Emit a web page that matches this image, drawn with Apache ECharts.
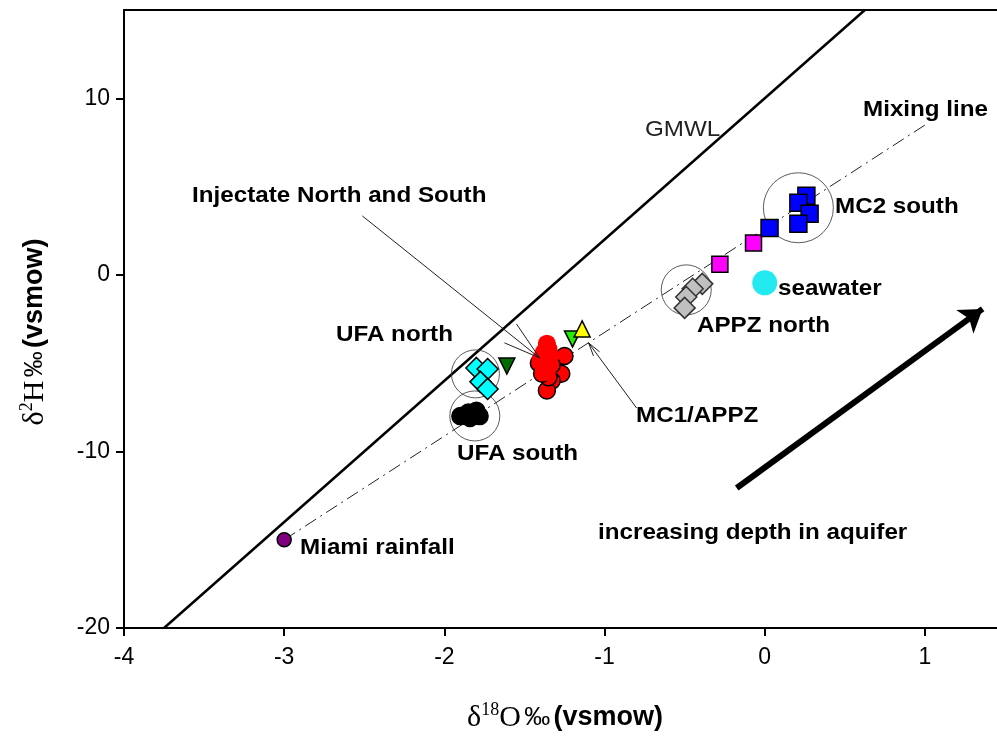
<!DOCTYPE html>
<html>
<head>
<meta charset="utf-8">
<script src="https://cdn.jsdelivr.net/npm/echarts@6/dist/echarts.min.js"></script>
<style>
  html, body { margin: 0; padding: 0; background: #fff; }
  #chart { width: 997px; height: 739px; }
</style>
</head>
<body>
<div id="chart"></div>
<script>
// Axis tick values
const xTicks = [-4, -3, -2, -1, 0, 1];
const yTicks = [-20, -10, 0, 10];

// Sample groups: d18O (x) and d2H (y), per mil vs VSMOW
const miamiO = [-3.0];
const miamiH = [-15.0];

const ufaNorthO = [-1.80, -1.73, -1.775, -1.73];
const ufaNorthH = [-5.27, -5.33, -6.06, -6.46];

const ufaSouthO = [-1.90, -1.85, -1.80, -1.78, -1.84];
const ufaSouthH = [-8.0, -7.8, -7.7, -8.0, -8.1];

const darkGreenO = [-1.61];
const darkGreenH = [-5.16];

// Injectate: outlined samples, then the upper samples that overlap into one mass
const injectateO = [-1.31, -1.25, -1.41, -1.27, -1.33, -1.36, -1.35, -1.39, -1.37, -1.33];
const injectateH = [-5.4, -4.6, -5.0, -5.6, -6.0, -6.55, -5.8, -5.6, -5.0, -5.1];
const injectateUpperO = [-1.36, -1.35, -1.38, -1.34, -1.40, -1.37, -1.38, -1.36, -1.36];
const injectateUpperH = [-3.9, -4.2, -4.4, -4.6, -4.8, -5.0, -5.3, -5.5, -4.0];

const mc1GreenO = [-1.20];
const mc1GreenH = [-3.63];
const mc1YellowO = [-1.14];
const mc1YellowH = [-3.06];

const appzNorthO = [-0.39, -0.45, -0.49, -0.50];
const appzNorthH = [-0.51, -0.79, -1.25, -1.87];

const magentaO = [-0.28, -0.07];
const magentaH = [0.6, 1.8];

const mc2SouthO = [0.03, 0.26, 0.21, 0.28, 0.21];
const mc2SouthH = [2.66, 4.48, 4.08, 3.46, 2.89];

const seawaterO = [0.0];
const seawaterH = [-0.45];

// Group outline circles: centre (O, H)
const ringO = [-1.806, -1.81, -0.49, 0.21];
const ringH = [-5.61, -7.99, -0.85, 3.8];

// Global meteoric water line and mixing line end points
const gmwlO = [-3.75, 0.625];
const gmwlH = [-20, 15];
const mixO = [-3.0, 1.02];
const mixH = [-15.0, 8.6];

// Pointer lines: [startO, startH, endO, endH]
const injectArrowShaft = [-2.5125, 3.34, -1.406, -4.70];
const injectArrowBarbA = [-1.55, -2.78, -1.406, -4.70];
const injectArrowBarbB = [-1.625, -3.85, -1.406, -4.70];
const mc1ArrowShaft = [-0.80, -7.54, -1.10, -3.85];
const mc1ArrowBarbA = [-1.031, -4.36, -1.10, -3.85];
const mc1ArrowBarbB = [-1.069, -4.59, -1.10, -3.85];
const depthArrow = [-0.175, -12.07, 1.36, -1.93];

const zip = (a, b) => a.map((v, i) => [v, b[i]]);
const seg = s => ({ coords: [[s[0], s[1]], [s[2], s[3]]] });

const chart = echarts.init(document.getElementById('chart'), null, { renderer: 'canvas' });

const FONT = '"Liberation Sans", Arial, sans-serif';
const SERIF = '"Liberation Serif", "Times New Roman", serif';

function marks(name, o, h, symbol, size, fill, opts) {
  opts = opts || {};
  return {
    name: name,
    type: 'scatter',
    data: zip(o, h),
    symbol: symbol,
    symbolSize: size,
    symbolRotate: opts.rotate || 0,
    itemStyle: {
      color: fill,
      borderColor: opts.border === undefined ? '#000' : opts.border,
      borderWidth: opts.borderWidth === undefined ? 1.5 : opts.borderWidth,
      opacity: 1
    },
    z: opts.z || 5,
    silent: true
  };
}

function label(text, x, y, weight, color, size) {
  return {
    type: 'text',
    x: x,
    y: y,
    scaleX: 1.1,
    silent: true,
    style: {
      text: text,
      x: 0,
      y: 0,
      fill: color || '#000',
      font: (weight || 'bold') + ' ' + (size || 22) + 'px ' + FONT,
      align: 'left',
      verticalAlign: 'middle',
      textAlign: 'left',
      textVerticalAlign: 'middle'
    }
  };
}

function axisTitle(text, x, y, rotation) {
  return {
    type: 'text',
    x: x,
    y: y,
    rotation: rotation,
    silent: true,
    style: {
      text: text,
      x: 0, y: 0,
      align: 'center', verticalAlign: 'middle',
      textAlign: 'center', textVerticalAlign: 'middle',
      rich: {
        g: { fontFamily: SERIF, fontSize: 30, fill: '#000', color: '#000' },
        s: { fontFamily: SERIF, fontSize: 18, fill: '#000', color: '#000', verticalAlign: 'top', padding: [0, 0, 15, 0] },
        p: { fontFamily: FONT, fontSize: 26, fill: '#000', color: '#000' },
        b: { fontFamily: FONT, fontSize: 27, fontWeight: 'bold', fill: '#000', color: '#000' }
      }
    }
  };
}

const option = {
  animation: false,
  backgroundColor: '#fff',
  grid: { left: 124, right: 0, top: 10, bottom: 111 },
  xAxis: [{
    type: 'value',
    min: -4,
    max: 1.45,
    interval: 1,
    axisLine: { show: true, onZero: false, lineStyle: { color: '#000', width: 2 } },
    axisTick: { show: true, length: 8, customValues: xTicks, lineStyle: { color: '#000', width: 2 } },
    axisLabel: { customValues: xTicks, fontSize: 23, color: '#000', margin: 18, fontFamily: FONT },
    splitLine: { show: false }
  }, {
    type: 'value',
    position: 'top',
    min: -4,
    max: 1.45,
    axisLine: { show: true, onZero: false, lineStyle: { color: '#000', width: 2 } },
    axisTick: { show: false },
    axisLabel: { show: false },
    splitLine: { show: false }
  }],
  yAxis: {
    type: 'value',
    min: -20,
    max: 15,
    interval: 10,
    axisLine: { show: true, onZero: false, lineStyle: { color: '#000', width: 2 } },
    axisTick: { show: true, length: 8, customValues: yTicks, lineStyle: { color: '#000', width: 2 } },
    axisLabel: { customValues: yTicks, fontSize: 23, color: '#000', margin: 14, fontFamily: FONT },
    splitLine: { show: false }
  },
  series: [
    {
      name: 'GMWL',
      type: 'line',
      data: zip(gmwlO, gmwlH),
      showSymbol: false,
      symbol: 'none',
      lineStyle: { color: '#000', width: 2.5 },
      z: 2,
      silent: true
    },
    {
      name: 'Mixing line',
      type: 'line',
      data: zip(mixO, mixH),
      showSymbol: false,
      symbol: 'none',
      lineStyle: { color: '#222', width: 1, type: [13, 5, 2, 5] },
      z: 2,
      silent: true
    },
    {
      name: 'pointers',
      type: 'lines',
      coordinateSystem: 'cartesian2d',
      data: [injectArrowShaft, injectArrowBarbA, injectArrowBarbB, mc1ArrowShaft, mc1ArrowBarbA, mc1ArrowBarbB].map(seg),
      lineStyle: { color: '#222', width: 1, opacity: 1 },
      symbol: 'none',
      z: 8,
      silent: true
    },
    {
      name: 'depth arrow',
      type: 'lines',
      coordinateSystem: 'cartesian2d',
      data: [seg(depthArrow)],
      lineStyle: { color: '#000', width: 6, opacity: 1 },
      symbol: ['none', 'arrow'],
      symbolSize: 22,
      z: 8,
      silent: true
    },
    {
      name: 'rings',
      type: 'scatter',
      data: zip(ringO, ringH),
      symbol: 'circle',
      symbolSize: function (v, p) { return [48, 50, 50, 70][p.dataIndex]; },
      itemStyle: { color: 'rgba(0,0,0,0)', borderColor: '#333', borderWidth: 1 },
      z: 3,
      silent: true
    },
    marks('Miami rainfall', miamiO, miamiH, 'circle', 14, '#800080'),
    marks('UFA north', ufaNorthO, ufaNorthH, 'diamond', 21, '#00ffff'),
    marks('UFA south', ufaSouthO, ufaSouthH, 'circle', 17, '#000'),
    marks('UFA north 2', darkGreenO, darkGreenH, 'triangle', 16, '#006d00', { rotate: 180 }),
    marks('Injectate', injectateO, injectateH, 'circle', 17, '#ff0000'),
    marks('Injectate upper', injectateUpperO, injectateUpperH, 'circle', 18, '#ff0000', { borderWidth: 0, z: 6 }),
    marks('MC1 green', mc1GreenO, mc1GreenH, 'triangle', 16, '#22ee00', { rotate: 180 }),
    marks('MC1 yellow', mc1YellowO, mc1YellowH, 'triangle', 16, '#ffff00'),
    marks('APPZ north', appzNorthO, appzNorthH, 'diamond', 21, '#c0c0c0', { border: '#333' }),
    marks('Intermediate', magentaO, magentaH, 'rect', 16, '#ff00ff'),
    marks('MC2 south', mc2SouthO, mc2SouthH, 'rect', 17, '#0000ff'),
    marks('Seawater', seawaterO, seawaterH, 'circle', 25, '#22eaf0', { borderWidth: 0 })
  ],
  graphic: [
    label('Mixing line', 863, 110),
    label('GMWL', 645, 130, 'normal', '#222', 22),
    label('Injectate North and South', 192, 196),
    label('MC2 south', 835, 207),
    label('seawater', 778, 289),
    label('APPZ north', 697, 326),
    label('UFA north', 336, 335),
    label('MC1/APPZ', 636, 416),
    label('UFA south', 457, 454),
    label('increasing depth in aquifer', 598, 533),
    label('Miami rainfall', 300, 548),
    axisTitle('{g|δ}{s|18}{g|O} {p|‰} {b|(vsmow)}', 565, 718, 0),
    axisTitle('{g|δ}{s|2}{g|H} {p|‰} {b|(vsmow)}', 35, 332, Math.PI / 2)
  ]
};

chart.setOption(option);
</script>
</body>
</html>
